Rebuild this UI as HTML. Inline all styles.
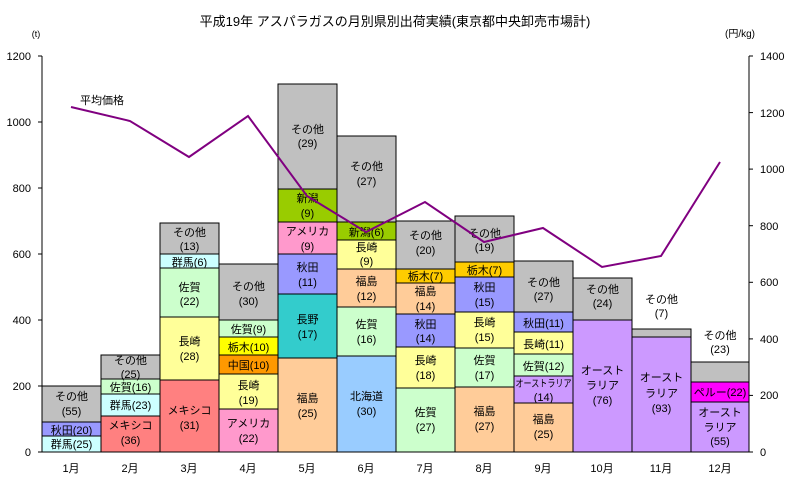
<!DOCTYPE html>
<html><head><meta charset="utf-8"><style>
html,body{margin:0;padding:0;background:#fff}
svg{display:block}
text{font-family:"Liberation Sans","Noto Sans CJK JP",sans-serif;font-size:11px;fill:#000}
.c{text-anchor:middle}
rect{stroke:#000;stroke-width:1}
</style></head><body>
<svg width="791" height="488" viewBox="0 0 791 488" xmlns="http://www.w3.org/2000/svg">
<text x="395" y="26" class="c" style="font-size:13px">平成19年 アスパラガスの月別県別出荷実績(東京都中央卸売市場計)</text>
<text x="36" y="37" class="c" style="font-size:9px">(t)</text>
<text x="740" y="37" class="c" style="font-size:10px">(円/kg)</text>
<g>
<line x1="42" y1="56" x2="42" y2="452" stroke="#000"/>
<line x1="749" y1="56" x2="749" y2="452" stroke="#000"/>
<line x1="42" y1="452" x2="749" y2="452" stroke="#000"/>
<g stroke="#000">
<line x1="38" y1="452" x2="42" y2="452"/><line x1="38" y1="386" x2="42" y2="386"/><line x1="38" y1="320" x2="42" y2="320"/><line x1="38" y1="254" x2="42" y2="254"/><line x1="38" y1="188" x2="42" y2="188"/><line x1="38" y1="122" x2="42" y2="122"/><line x1="38" y1="56" x2="42" y2="56"/>
<line x1="749" y1="452" x2="753" y2="452"/><line x1="749" y1="395.4" x2="753" y2="395.4"/><line x1="749" y1="338.9" x2="753" y2="338.9"/><line x1="749" y1="282.3" x2="753" y2="282.3"/><line x1="749" y1="225.7" x2="753" y2="225.7"/><line x1="749" y1="169.1" x2="753" y2="169.1"/><line x1="749" y1="112.6" x2="753" y2="112.6"/><line x1="749" y1="56" x2="753" y2="56"/>
</g>
<g style="text-anchor:end">
<text x="31" y="456">0</text><text x="31" y="390">200</text><text x="31" y="324">400</text><text x="31" y="258">600</text><text x="31" y="192">800</text><text x="31" y="126">1000</text><text x="31" y="60">1200</text>
</g>
<g>
<text x="760" y="456">0</text><text x="760" y="399">200</text><text x="760" y="343">400</text><text x="760" y="286">600</text><text x="760" y="230">800</text><text x="760" y="173">1000</text><text x="760" y="117">1200</text><text x="760" y="60">1400</text>
</g>
<g class="c">
<text x="71" y="472" class="c">1月</text><text x="130" y="472" class="c">2月</text><text x="189" y="472" class="c">3月</text><text x="248" y="472" class="c">4月</text><text x="307" y="472" class="c">5月</text><text x="366" y="472" class="c">6月</text><text x="425" y="472" class="c">7月</text><text x="484" y="472" class="c">8月</text><text x="543" y="472" class="c">9月</text><text x="602" y="472" class="c">10月</text><text x="661" y="472" class="c">11月</text><text x="720" y="472" class="c">12月</text>
</g>
</g>

<!-- Jan -->
<rect x="42" y="436" width="59" height="16" fill="#ccffff"/>
<rect x="42" y="422" width="59" height="14" fill="#9999ff"/>
<rect x="42" y="386" width="59" height="36" fill="#c0c0c0"/>
<text x="71.5" y="448" class="c">群馬(25)</text>
<text x="71.5" y="434" class="c">秋田(20)</text>
<text x="71.5" y="400" class="c">その他</text><text x="71.5" y="415" class="c">(55)</text>
<!-- Feb -->
<rect x="101" y="416" width="59" height="36" fill="#ff8080"/>
<rect x="101" y="394" width="59" height="22" fill="#ccffff"/>
<rect x="101" y="379" width="59" height="15" fill="#ccffcc"/>
<rect x="101" y="355" width="59" height="24" fill="#c0c0c0"/>
<text x="130.5" y="429" class="c">メキシコ</text><text x="130.5" y="444" class="c">(36)</text>
<text x="130.5" y="409" class="c">群馬(23)</text>
<text x="130.5" y="391" class="c">佐賀(16)</text>
<text x="130.5" y="364" class="c">その他</text><text x="130.5" y="378" class="c">(25)</text>
<!-- Mar -->
<rect x="160" y="380" width="59" height="72" fill="#ff8080"/>
<rect x="160" y="317" width="59" height="63" fill="#ffff99"/>
<rect x="160" y="268" width="59" height="49" fill="#ccffcc"/>
<rect x="160" y="254" width="59" height="14" fill="#ccffff"/>
<rect x="160" y="223" width="59" height="31" fill="#c0c0c0"/>
<text x="189.5" y="414" class="c">メキシコ</text><text x="189.5" y="429" class="c">(31)</text>
<text x="189.5" y="345" class="c">長崎</text><text x="189.5" y="360" class="c">(28)</text>
<text x="189.5" y="291" class="c">佐賀</text><text x="189.5" y="305" class="c">(22)</text>
<text x="189.5" y="266" class="c">群馬(6)</text>
<text x="189.5" y="236" class="c">その他</text><text x="189.5" y="250" class="c">(13)</text>
<!-- Apr -->
<rect x="219" y="409" width="59" height="43" fill="#ff99cc"/>
<rect x="219" y="374" width="59" height="35" fill="#ffff99"/>
<rect x="219" y="355" width="59" height="19" fill="#ff9900"/>
<rect x="219" y="337" width="59" height="18" fill="#ffff00"/>
<rect x="219" y="320" width="59" height="17" fill="#ccffcc"/>
<rect x="219" y="264" width="59" height="56" fill="#c0c0c0"/>
<text x="248.5" y="427" class="c">アメリカ</text><text x="248.5" y="442" class="c">(22)</text>
<text x="248.5" y="389" class="c">長崎</text><text x="248.5" y="404" class="c">(19)</text>
<text x="248.5" y="369" class="c">中国(10)</text>
<text x="248.5" y="351" class="c">栃木(10)</text>
<text x="248.5" y="333" class="c">佐賀(9)</text>
<text x="248.5" y="290" class="c">その他</text><text x="248.5" y="305" class="c">(30)</text>
<!-- May -->
<rect x="278" y="358" width="59" height="94" fill="#ffcc99"/>
<rect x="278" y="294" width="59" height="64" fill="#33cccc"/>
<rect x="278" y="254" width="59" height="40" fill="#9999ff"/>
<rect x="278" y="222" width="59" height="32" fill="#ff99cc"/>
<rect x="278" y="189" width="59" height="33" fill="#99cc00"/>
<rect x="278" y="84" width="59" height="105" fill="#c0c0c0"/>
<text x="307.5" y="402" class="c">福島</text><text x="307.5" y="417" class="c">(25)</text>
<text x="307.5" y="323" class="c">長野</text><text x="307.5" y="338" class="c">(17)</text>
<text x="307.5" y="271" class="c">秋田</text><text x="307.5" y="286" class="c">(11)</text>
<text x="307.5" y="235" class="c">アメリカ</text><text x="307.5" y="250" class="c">(9)</text>
<text x="307.5" y="202" class="c">新潟</text><text x="307.5" y="217" class="c">(9)</text>
<text x="307.5" y="133" class="c">その他</text><text x="307.5" y="147" class="c">(29)</text>
<!-- Jun -->
<rect x="337" y="356" width="59" height="96" fill="#99ccff"/>
<rect x="337" y="307" width="59" height="49" fill="#ccffcc"/>
<rect x="337" y="269" width="59" height="38" fill="#ffcc99"/>
<rect x="337" y="240" width="59" height="29" fill="#ffff99"/>
<rect x="337" y="222" width="59" height="18" fill="#99cc00"/>
<rect x="337" y="136" width="59" height="86" fill="#c0c0c0"/>
<text x="366.5" y="400" class="c">北海道</text><text x="366.5" y="415" class="c">(30)</text>
<text x="366.5" y="328" class="c">佐賀</text><text x="366.5" y="343" class="c">(16)</text>
<text x="366.5" y="285" class="c">福島</text><text x="366.5" y="300" class="c">(12)</text>
<text x="366.5" y="251" class="c">長崎</text><text x="366.5" y="265" class="c">(9)</text>
<text x="366.5" y="236" class="c">新潟(6)</text>
<text x="366.5" y="170" class="c">その他</text><text x="366.5" y="185" class="c">(27)</text>
<!-- Jul -->
<rect x="396" y="388" width="59" height="64" fill="#ccffcc"/>
<rect x="396" y="347" width="59" height="41" fill="#ffff99"/>
<rect x="396" y="314" width="59" height="33" fill="#9999ff"/>
<rect x="396" y="283" width="59" height="31" fill="#ffcc99"/>
<rect x="396" y="269" width="59" height="14" fill="#ffcc00"/>
<rect x="396" y="221" width="59" height="48" fill="#c0c0c0"/>
<text x="425.5" y="416" class="c">佐賀</text><text x="425.5" y="431" class="c">(27)</text>
<text x="425.5" y="364" class="c">長崎</text><text x="425.5" y="379" class="c">(18)</text>
<text x="425.5" y="328" class="c">秋田</text><text x="425.5" y="342" class="c">(14)</text>
<text x="425.5" y="295" class="c">福島</text><text x="425.5" y="310" class="c">(14)</text>
<text x="425.5" y="280" class="c">栃木(7)</text>
<text x="425.5" y="239" class="c">その他</text><text x="425.5" y="254" class="c">(20)</text>
<!-- Aug -->
<rect x="455" y="387" width="59" height="65" fill="#ffcc99"/>
<rect x="455" y="348" width="59" height="39" fill="#ccffcc"/>
<rect x="455" y="312" width="59" height="36" fill="#ffff99"/>
<rect x="455" y="277" width="59" height="35" fill="#9999ff"/>
<rect x="455" y="262" width="59" height="15" fill="#ffcc00"/>
<rect x="455" y="216" width="59" height="46" fill="#c0c0c0"/>
<text x="484.5" y="415" class="c">福島</text><text x="484.5" y="430" class="c">(27)</text>
<text x="484.5" y="364" class="c">佐賀</text><text x="484.5" y="379" class="c">(17)</text>
<text x="484.5" y="326" class="c">長崎</text><text x="484.5" y="341" class="c">(15)</text>
<text x="484.5" y="291" class="c">秋田</text><text x="484.5" y="306" class="c">(15)</text>
<text x="484.5" y="274" class="c">栃木(7)</text>
<text x="484.5" y="237" class="c">その他</text><text x="484.5" y="251" class="c">(19)</text>
<!-- Sep -->
<rect x="514" y="403" width="59" height="49" fill="#ffcc99"/>
<rect x="514" y="376" width="59" height="27" fill="#cc99ff"/>
<rect x="514" y="354" width="59" height="22" fill="#ccffcc"/>
<rect x="514" y="332" width="59" height="22" fill="#ffff99"/>
<rect x="514" y="312" width="59" height="20" fill="#9999ff"/>
<rect x="514" y="261" width="59" height="51" fill="#c0c0c0"/>
<text x="543.5" y="423" class="c">福島</text><text x="543.5" y="438" class="c">(25)</text>
<text x="543.5" y="387" class="c" style="font-size:10px" textLength="56" lengthAdjust="spacingAndGlyphs">オーストラリア</text><text x="543.5" y="401" class="c">(14)</text>
<text x="543.5" y="370" class="c">佐賀(12)</text>
<text x="543.5" y="348" class="c">長崎(11)</text>
<text x="543.5" y="327" class="c">秋田(11)</text>
<text x="543.5" y="286" class="c">その他</text><text x="543.5" y="300" class="c">(27)</text>
<!-- Oct -->
<rect x="573" y="320" width="59" height="132" fill="#cc99ff"/>
<rect x="573" y="278" width="59" height="42" fill="#c0c0c0"/>
<text x="602.5" y="374" class="c">オースト</text><text x="602.5" y="389" class="c">ラリア</text><text x="602.5" y="404" class="c">(76)</text>
<text x="602.5" y="293" class="c">その他</text><text x="602.5" y="307" class="c">(24)</text>
<!-- Nov -->
<rect x="632" y="337" width="59" height="115" fill="#cc99ff"/>
<rect x="632" y="329" width="59" height="8" fill="#c0c0c0"/>
<text x="661.5" y="381" class="c">オースト</text><text x="661.5" y="397" class="c">ラリア</text><text x="661.5" y="412" class="c">(93)</text>
<text x="661.5" y="303" class="c">その他</text><text x="661.5" y="317" class="c">(7)</text>
<!-- Dec -->
<rect x="691" y="402" width="58" height="50" fill="#cc99ff"/>
<rect x="691" y="382" width="58" height="20" fill="#ff00ff"/>
<rect x="691" y="362" width="58" height="20" fill="#c0c0c0"/>
<text x="720" y="416" class="c">オースト</text><text x="720" y="431" class="c">ラリア</text><text x="720" y="445" class="c">(55)</text>
<text x="720" y="396" class="c">ペルー(22)</text>
<text x="720" y="339" class="c">その他</text><text x="720" y="353" class="c">(23)</text>

<polyline fill="none" stroke="#800080" stroke-width="2" points="71,107 130,121 189,157 248,116 307,196 366,232 425,202 484,242 543,228 602,267 661,256 720,162"/>
<text x="80" y="104">平均価格</text>
</svg>
</body></html>
